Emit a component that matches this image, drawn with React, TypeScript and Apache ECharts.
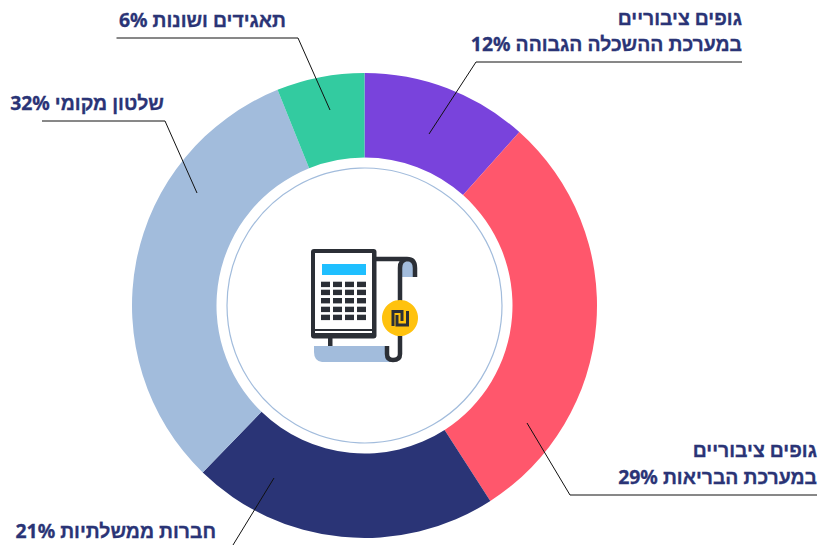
import React, { useEffect, useRef } from "react";
import * as echarts from "echarts";

const categories = ["גופים ציבוריים במערכת ההשכלה הגבוהה", "גופים ציבוריים במערכת הבריאות", "חברות ממשלתיות", "שלטון מקומי", "תאגידים ושונות"];
const firstLines = ["גופים ציבוריים", "גופים ציבוריים", "", "", ""];
const secondLines = ["במערכת ההשכלה הגבוהה", "במערכת הבריאות", "חברות ממשלתיות", "שלטון מקומי", "תאגידים ושונות"];
const values = [11.6, 29.3, 21.35, 31.65, 6.1];
const colors = ["#7943dc", "#ff576c", "#2a3476", "#a2bcdc", "#33cba0"];

const FONT = "'Noto Sans', sans-serif";
const NAVY = "#2a3476";
const DARK = "#2b2f36";
const CX = 364.5;
const CY = 305.5;

echarts.graphic.registerShape(
  "scrollLine",
  echarts.graphic.extendPath("M376 259 H407 Q415 259 415 268 V277 M407 259 Q400 260 400 268 V354 Q400 360 393 360 Q387 360 387 354 V346", {})
);
echarts.graphic.registerShape(
  "scrollTop",
  echarts.graphic.extendPath("M402 277 V268 Q402 261 408 261 Q414 261 414 268 V277 Z", {})
);
echarts.graphic.registerShape(
  "scrollBottom",
  echarts.graphic.extendPath("M314 346 H385 V354 Q386 360 393 362 H322 Q314 361 314 352 Z", {})
);

const labelSpots = [
  { right: 742, ys: [17, 43] },
  { right: 817, ys: [449, 476] },
  { right: 216, ys: [530] },
  { right: 164, ys: [102] },
  { right: 286, ys: [19] },
];

const leaders = [
  [[742, 62], [476, 62], [429, 134]],
  [[817, 495], [570, 495], [527, 423]],
  [[274, 478], [233, 545]],
  [[42, 121], [165, 121], [197, 193]],
  [[116.5, 38], [298, 38], [330, 110]],
];

function labelTexts() {
  const out: any[] = [];
  values.forEach((v, i) => {
    const pct = Math.round(v);
    const lines = firstLines[i] ? [firstLines[i], `${secondLines[i]} ${pct}%`] : [`${secondLines[i]} ${pct}%`];
    lines.forEach((t, j) => {
      out.push({
        type: "text",
        x: labelSpots[i].right,
        y: labelSpots[i].ys[j],
        z: 20,
        style: { text: t, font: `bold 19.4px ${FONT}`, fill: NAVY, stroke: NAVY, lineWidth: 0.3, align: "right", verticalAlign: "middle" },
      });
    });
  });
  return out;
}

function icon() {
  const el: any[] = [];
  const rect = (x: number, y: number, w: number, h: number, fill: string, r = 0) =>
    el.push({ type: "rect", z: 15, shape: { x, y, width: w, height: h, r }, style: { fill } });
  el.push({ type: "scrollTop", z: 14, style: { fill: "#a2bcdc" } });
  el.push({ type: "scrollBottom", z: 14, style: { fill: "#a2bcdc" } });
  el.push({ type: "scrollLine", z: 15, style: { fill: "none", stroke: DARK, lineWidth: 4.5 } });
  rect(328, 338, 4.5, 8, DARK);
  rect(311, 249, 65.5, 89.5, DARK, 3);
  rect(315, 253, 57, 76, "#ffffff");
  rect(315, 331, 57, 2, "#ffffff");
  rect(322, 264, 44, 11, "#1fbfff");
  [281.7, 289.7, 298, 306.7, 314.7].forEach((y) =>
    [321, 333, 345, 357].forEach((x) => rect(x, y, 9, 5.4, DARK))
  );
  el.push({ type: "circle", z: 16, shape: { cx: 400, cy: 318, r: 18 }, style: { fill: "#ffc20e" } });
  el.push({ type: "polyline", z: 17, shape: { points: [[393, 326], [393, 311.5], [402, 311.5], [402, 321]] }, style: { fill: "none", stroke: DARK, lineWidth: 3 } });
  el.push({ type: "polyline", z: 17, shape: { points: [[397, 315], [397, 325], [407.5, 325], [407.5, 311]] }, style: { fill: "none", stroke: DARK, lineWidth: 3 } });
  return el;
}

export default function App() {
  const ref = useRef<HTMLDivElement>(null);
  useEffect(() => {
    const chart = echarts.init(ref.current!, undefined, { renderer: "svg" });
    chart.setOption({
      animation: false,
      backgroundColor: "#ffffff",
      series: [
        {
          type: "pie",
          silent: true,
          center: [CX, CY],
          radius: [148, 232.5],
          startAngle: 90,
          clockwise: true,
          label: { show: false },
          labelLine: { show: false },
          data: categories.map((name, i) => ({ name, value: values[i], itemStyle: { color: colors[i] } })),
        },
      ],
      graphic: [
        { type: "circle", z: 5, shape: { cx: CX, cy: CY, r: 137.5 }, style: { fill: "#ffffff", stroke: "#a2bcdc", lineWidth: 1.2 } },
        ...leaders.map((points) => ({ type: "polyline", z: 10, shape: { points }, style: { fill: "none", stroke: "#111111", lineWidth: 1 } })),
        ...labelTexts(),
        ...icon(),
      ],
    });
    return () => chart.dispose();
  }, []);
  return <div ref={ref} style={{ position: "fixed", left: 0, top: 0, width: 820, height: 545 }} />;
}
